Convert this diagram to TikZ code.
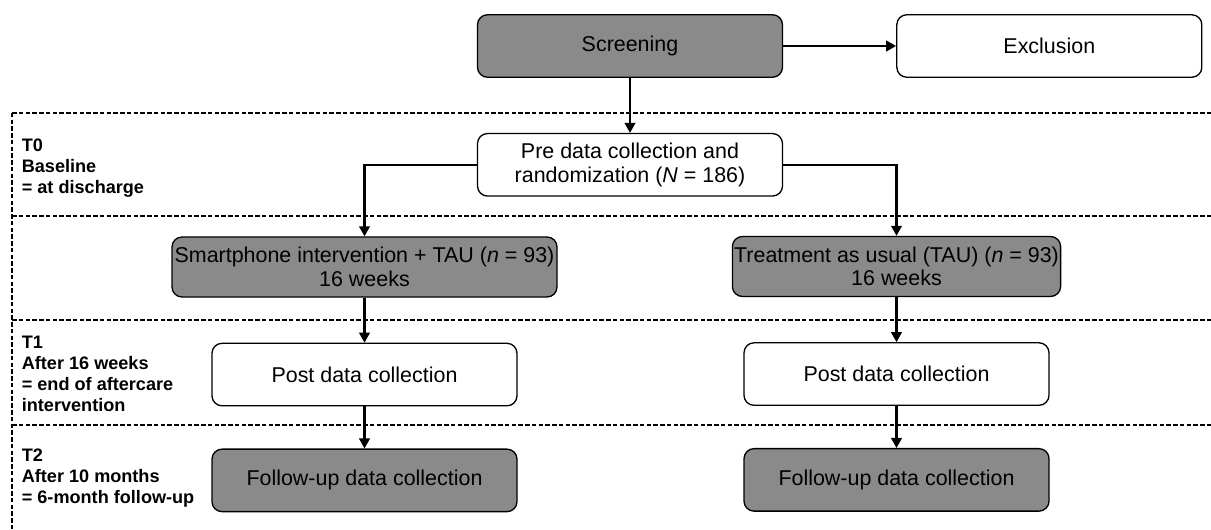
\documentclass[tikz,border=0pt]{standalone}
\usepackage{fontspec}
\setmainfont{Liberation Sans}
\usepackage{tikz}
\usetikzlibrary{positioning,arrows.meta}

\definecolor{boxgrey}{RGB}{138,138,138}

\begin{document}
\begin{tikzpicture}[
  box/.style={draw, rounded corners=2mm, line width=0.75pt, align=center, minimum width=61mm, minimum height=12.5mm, inner sep=1pt, font=\fontsize{12.2}{13.4}\selectfont},
  grey/.style={box, fill=boxgrey},
  arr/.style={-{Triangle[length=2mm,width=2.1mm]}, line width=1.3pt},
  sep/.style={dash pattern=on 0.9mm off 0.45mm, line width=0.75pt},
  phase/.style={anchor=north west, inner sep=0pt, align=left, font=\bfseries\fontsize{10.3}{11.8}\selectfont},
]
\useasboundingbox (0,0) rectangle (242.2mm,-106mm);

% time point separators
\foreach \y in {22.6,43.2,64,85}
  \draw[sep] (2.4mm,-\y mm) -- (242.2mm,-\y mm);
\draw[sep] (2.4mm,-22.6mm) -- (2.4mm,-106mm);

\node[phase] (t0) at (4.3mm,-27.8mm) {T0\\Baseline\\= at discharge};
\node[phase] (t1) at (4.3mm,-67.2mm) {T1\\After 16 weeks\\= end of aftercare\\intervention};
\node[phase] (t2) at (4.3mm,-89.8mm) {T2\\After 10 months\\= 6-month follow-up};

% flow
\node[grey] (scr) at (126mm,-9.2mm) {Screening};
\node[box, right=22.6mm of scr] (excl) {Exclusion};
\node[box, below=11mm of scr] (pre) {Pre data collection and\\ randomization (\textit{N} = 186)};
\node[grey, minimum width=77mm, minimum height=12mm] (smart) at (72.9mm,-53.4mm) {Smartphone intervention + TAU (\textit{n} = 93)\\ 16 weeks};
\node[grey, minimum width=65.4mm, minimum height=12mm] (tau) at (179.3mm,-53.3mm) {Treatment as usual (TAU) (\textit{n} = 93)\\ 16 weeks};
\node[box, below=9mm of smart] (postA) {Post data collection};
\node[box, below=9mm of tau] (postB) {Post data collection};
\node[grey, below=8.4mm of postA] (folA) {Follow-up data collection};
\node[grey, below=8.4mm of postB] (folB) {Follow-up data collection};

\draw[arr] (scr) -- (excl);
\draw[arr] (scr) -- (pre);
\draw[arr] (pre.west) -| (smart.north);
\draw[arr] (pre.east) -| (tau.north);
\draw[arr] (smart) -- (postA);
\draw[arr] (tau) -- (postB);
\draw[arr] (postA) -- (folA);
\draw[arr] (postB) -- (folB);
\end{tikzpicture}
\end{document}
